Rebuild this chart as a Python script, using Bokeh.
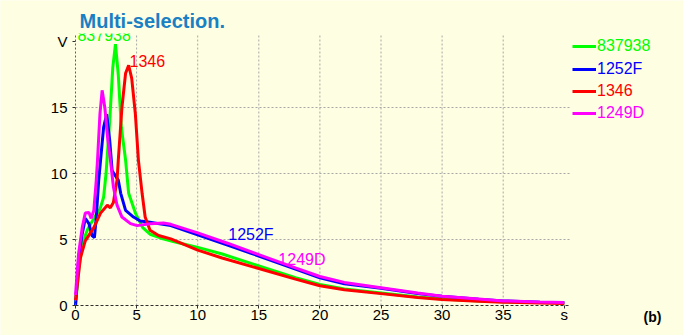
from bokeh.plotting import figure
from bokeh.models import Range1d, FixedTicker, Label, Legend, LegendItem
from bokeh.core.properties import value
from bokeh.embed import file_html
from bokeh.resources import INLINE

# ---- data ----
names = ["837938", "1252F", "1346", "1249D"]
colors = ["#00ff00", "#0000ff", "#ff0000", "#ff00ff"]

x_837938 = [0, 0.3, 0.6, 1.0, 1.5, 2.0, 2.3, 2.5, 2.8, 3.05, 3.27, 3.5, 3.75, 4.1, 4.35,
            4.9, 5.5, 6.1, 7.0, 8.0, 10, 12, 15, 18, 20, 22, 25, 28, 30, 33, 35, 38, 40]
y_837938 = [0, 3.0, 4.8, 5.8, 6.6, 7.3, 8.2, 10.0, 14.0, 18.0, 19.8, 17.5, 13.5, 11.0, 8.5,
            7.0, 5.9, 5.4, 5.1, 4.85, 4.4, 3.9, 3.0, 2.1, 1.6, 1.25, 0.95, 0.65, 0.5, 0.35, 0.28, 0.22, 0.2]

x_1252F = [0, 0.25, 0.5, 0.8, 1.1, 1.35, 1.55, 1.7, 1.9, 2.05, 2.3, 2.55, 2.8, 3.0, 3.5, 3.7,
           4.1, 4.75, 5.3, 6.1, 7.8, 10, 12.5, 15, 18, 20, 22, 25, 28, 30, 33, 35, 38, 40]
y_1252F = [0, 3.4, 5.2, 6.6, 6.2, 5.3, 5.15, 6.7, 9.5, 11.0, 13.5, 14.5, 12.5, 10.2, 9.5, 8.5,
           7.2, 6.7, 6.4, 6.3, 6.05, 5.35, 4.55, 3.75, 2.75, 2.1, 1.65, 1.3, 0.9, 0.7, 0.48, 0.35, 0.25, 0.2]

x_1346 = [0, 0.4, 0.8, 1.5, 2.05, 2.6, 2.85, 3.1, 3.4, 3.5, 3.8, 4.1, 4.35, 4.6, 4.9, 5.15,
          5.45, 5.7, 6.1, 6.8, 7.8, 10, 12, 15, 18, 20, 22, 25, 28, 30, 33, 35, 38, 40]
y_1346 = [0.4, 3.6, 4.9, 5.9, 7.0, 7.6, 7.4, 7.8, 9.5, 11.0, 15.0, 17.6, 18.2, 17.2, 14.5, 11.0,
          8.5, 6.7, 5.7, 5.3, 5.05, 4.2, 3.6, 2.8, 2.0, 1.5, 1.2, 0.9, 0.6, 0.45, 0.32, 0.25, 0.18, 0.15]

x_1249D = [0, 0.25, 0.55, 0.8, 1.1, 1.28, 1.5, 1.7, 1.8, 2.0, 2.18, 2.4, 2.65, 2.86, 3.1, 3.4,
           3.8, 4.5, 5.05, 6.1, 7.2, 7.8, 10, 12.5, 15, 18, 20, 22, 25, 28, 30, 33, 35, 38, 40]
y_1249D = [0.8, 3.9, 5.9, 7.0, 7.05, 6.6, 7.2, 9.5, 11.0, 14.5, 16.3, 15.0, 12.5, 11.0, 9.0, 7.6,
           6.7, 6.2, 6.05, 6.2, 6.25, 6.15, 5.5, 4.7, 3.85, 2.85, 2.2, 1.75, 1.35, 0.95, 0.7, 0.5, 0.35, 0.27, 0.22]

xs = [x_837938, x_1252F, x_1346, x_1249D]
ys = [y_837938, y_1252F, y_1346, y_1249D]

x_ticks = [0, 5, 10, 15, 20, 25, 30, 35, 40]
x_tick_labels = {40: "s"}
y_ticks = [0, 5, 10, 15, 20]
y_tick_labels = {20: "V"}
x_grid = [5, 10, 15, 20, 25, 30, 35]
y_grid = [5, 10, 15]

curve_labels = ["837938", "1252F", "1346", "1249D"]
curve_label_x = [0.16, 12.5, 4.42, 16.6]
curve_label_y = [20.5, 5.35, 18.5, 3.45]

title_text = "Multi-selection."
corner_text = "(b)"

X_MAX = 40.5
Y_MAX = 20.6

BG = "#fefee2"
FONT = "Liberation Sans"

# page geometry (pixels): data origin and scale
W, H = 683, 335
ORG_X, ORG_Y = 75, 305
SX, SY = 12.22, 13.2

def dx(px):
    return (px - ORG_X) / SX

def dy(py):
    return (ORG_Y - py) / SY

p = figure(width=W, height=H, output_backend="svg", toolbar_location=None,
           x_range=Range1d(dx(0), dx(W)), y_range=Range1d(dy(H), dy(0)),
           min_border=0)
p.background_fill_color = BG
p.border_fill_color = BG
p.outline_line_color = None
p.xgrid.visible = False
p.ygrid.visible = False

# grid lines limited to the data area
p.segment(x0=x_grid, x1=x_grid, y0=[0] * len(x_grid), y1=[Y_MAX] * len(x_grid),
          line_color="#a8a8a8", line_dash="2 2", line_width=1)
p.segment(x0=[0] * len(y_grid), x1=[X_MAX] * len(y_grid), y0=y_grid, y1=y_grid,
          line_color="#a8a8a8", line_dash="2 2", line_width=1)

# curve labels
for txt, lx, ly, c in zip(curve_labels, curve_label_x, curve_label_y, colors):
    p.text(x=[lx], y=[ly], text=[txt], text_color=c, text_font=value(FONT),
           text_font_size="16px", text_baseline="alphabetic", text_align="left")

renderers = []
for x, y, c in zip(xs, ys, colors):
    renderers.append(p.line(x, y, line_color=c, line_width=3))

# mask: text above the plotting area is clipped in the original
p.quad(left=[dx(0)], right=[X_MAX], bottom=[Y_MAX], top=[dy(0)], fill_color=BG, line_color=None)

# axes at fixed location
p.xaxis.fixed_location = 0
p.yaxis.fixed_location = 0
p.xaxis.bounds = (0, X_MAX)
p.yaxis.bounds = (0, Y_MAX)
p.xaxis.ticker = FixedTicker(ticks=x_ticks)
p.yaxis.ticker = FixedTicker(ticks=y_ticks)
p.xaxis.major_label_overrides = x_tick_labels
p.yaxis.major_label_overrides = y_tick_labels
for ax in (p.xaxis, p.yaxis):
    ax.major_label_text_font = FONT
    ax.major_label_text_font_size = "15px"
    ax.major_label_text_color = "black"
    ax.minor_tick_line_color = None
    ax.major_tick_in = 0
    ax.major_tick_out = 3
    ax.major_tick_line_color = "#303030"
p.xaxis.major_label_standoff = -3
p.yaxis.major_label_standoff = 5
p.xaxis.axis_line_color = "#303030"
p.xaxis.axis_line_dash = "3 2"
p.yaxis.axis_line_color = "#606060"
p.yaxis.axis_line_dash = "2 2"

# legends (one per series, own text colour)
legend_centers = [47, 70, 92, 114]
for name, r, c, cy in zip(names, renderers, colors, legend_centers):
    lg = Legend(items=[LegendItem(label=name, renderers=[r])], location=(572, H - cy - 8),
                padding=0, margin=0, spacing=0, border_line_color=None,
                background_fill_alpha=0, glyph_width=24, glyph_height=16,
                label_height=16, label_standoff=1, label_text_color=c,
                label_text_font=FONT, label_text_font_size="16px")
    p.add_layout(lg)

p.add_layout(Label(x=dx(79), y=dy(20), text=title_text, text_color="#1a80c4",
                   text_font=FONT, text_font_size="20px", text_font_style="bold",
                   text_baseline="alphabetic"))
p.add_layout(Label(x=dx(643), y=dy(316), text=corner_text, text_color="black",
                   text_font=FONT, text_font_size="14px", text_font_style="bold",
                   text_baseline="alphabetic"))

open("out.html", "w").write(file_html(p, INLINE))
